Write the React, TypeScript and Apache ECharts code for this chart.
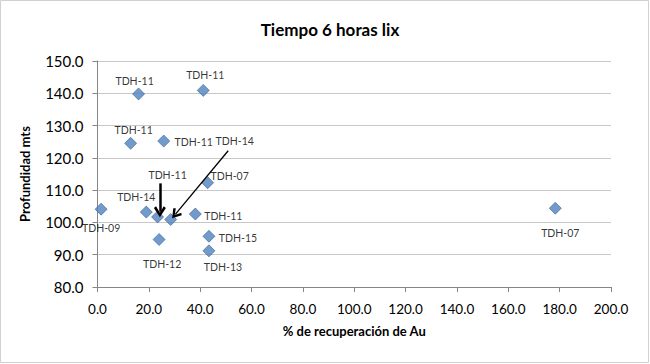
import React, { useEffect, useRef } from "react";
import * as echarts from "echarts";

const pointNames = ["TDH-11","TDH-11","TDH-11","TDH-11","TDH-07","TDH-09","TDH-14","TDH-11","TDH-14","TDH-11","TDH-12","TDH-15","TDH-13","TDH-07"];
const recovery = [16.0, 41.2, 12.9, 25.8, 42.9, 1.4, 19.0, 23.4, 28.5, 38.1, 24.0, 43.4, 43.4, 178.3];
const depth = [139.8, 140.9, 124.5, 125.2, 112.3, 104.1, 103.2, 101.7, 100.9, 102.6, 94.7, 95.7, 91.2, 104.4];
const labelOffsets: [number, number][] = [[-4,-13],[2,-15],[3,-13],[30,1],[22,-7],[0,19],[-10,-15],[10,-42],[64,-79],[28,2],[3,24],[29,2],[14,16],[5,25]];
const arrows = [
  { from: [24.3, 112.1], to: [24.3, 103.3], width: 2.5, head: [12, 11] },
  { from: [50.9, 122.2], to: [30.3, 102.5], width: 1.3, head: [11, 10] },
];
const xTicks = { min: 0, max: 200, interval: 20 };
const yTicks = { min: 80, max: 150, interval: 10 };

const FONT = "Lato, 'Open Sans', sans-serif";
const CHEVRON = "path://M5,0 L10,8.5 L8.2,10 L5,4.2 L1.8,10 L0,8.5 Z";

export default function App() {
  const ref = useRef<HTMLDivElement>(null);
  useEffect(() => {
    if (!ref.current) return;
    const chart = echarts.init(ref.current, null, { renderer: "svg" });
    const data = recovery.map((x, i) => ({
      value: [x, depth[i]],
      name: pointNames[i],
      label: {
        show: true,
        position: "inside",
        align: "center",
        verticalAlign: "middle",
        offset: labelOffsets[i],
        formatter: pointNames[i],
        color: "#000",
        fontSize: 10.5,
        fontFamily: FONT,
      },
    }));
    chart.setOption({
      animation: false,
      backgroundColor: "#fff",
      title: {
        text: "Tiempo 6 horas lix",
        left: 325,
        top: 16,
        textAlign: "center",
        textStyle: { fontSize: 17, fontWeight: "bold", fontFamily: FONT, color: "#000" },
      },
      graphic: [
        {
          type: "rect",
          shape: { x: 0.5, y: 0.5, width: 648, height: 362 },
          style: { fill: "none", stroke: "#d0d0d0", lineWidth: 1 },
          silent: true,
        },
      ],
      grid: { left: 97.5, right: 39, top: 61, bottom: 77 },
      xAxis: {
        type: "value",
        min: xTicks.min,
        max: xTicks.max,
        interval: xTicks.interval,
        name: "% de recuperación de Au",
        nameLocation: "middle",
        nameGap: 37,
        nameTextStyle: { fontSize: 13, fontWeight: "bold", fontFamily: FONT, color: "#000" },
        axisLine: { show: true, lineStyle: { color: "#868686" } },
        axisTick: { show: true, length: 5, lineStyle: { color: "#868686" } },
        axisLabel: { formatter: (v: number) => v.toFixed(1), fontSize: 13.5, fontFamily: FONT, color: "#000", margin: 15 },
        splitLine: { show: false },
      },
      yAxis: {
        type: "value",
        min: yTicks.min,
        max: yTicks.max,
        interval: yTicks.interval,
        name: "Profundidad mts",
        nameLocation: "middle",
        nameGap: 66,
        nameTextStyle: { fontSize: 13, fontWeight: "bold", fontFamily: FONT, color: "#000" },
        axisLine: { show: true, lineStyle: { color: "#868686" } },
        axisTick: { show: true, length: 5, lineStyle: { color: "#868686" } },
        axisLabel: { formatter: (v: number) => v.toFixed(1), fontSize: 15, fontFamily: FONT, color: "#000", margin: 14 },
        splitLine: { show: true, lineStyle: { color: "#c8c8c8" } },
      },
      series: [
        {
          type: "scatter",
          symbol: "diamond",
          symbolSize: 12,
          itemStyle: { color: "#4F81BD", borderColor: "#3A6397", borderWidth: 0.8 },
          data,
          markLine: {
            silent: true,
            animation: false,
            label: { show: false },
            data: arrows.map((a) => [
              { coord: a.from, symbol: "none", lineStyle: { color: "#000", width: a.width, type: "solid" } },
              { coord: a.to, symbol: CHEVRON, symbolSize: a.head },
            ]),
          },
        },
      ],
    });
    return () => chart.dispose();
  }, []);
  return <div ref={ref} style={{ position: "fixed", left: 0, top: 0, width: 650, height: 364 }} />;
}
